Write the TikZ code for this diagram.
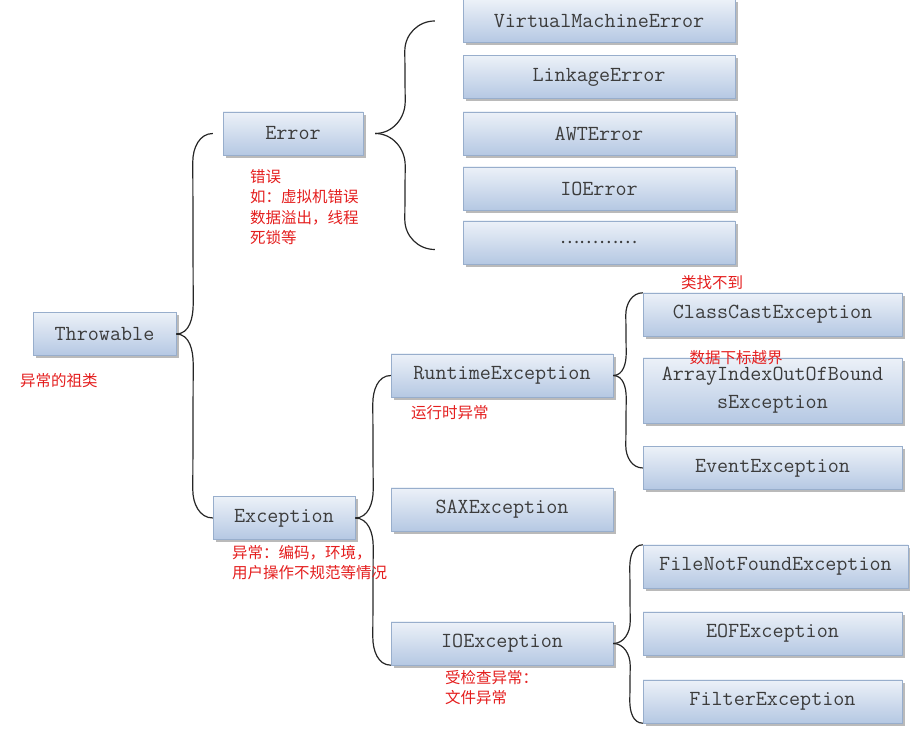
\documentclass[tikz,border=0pt]{standalone}
\usepackage{fontspec}
\newfontfamily\cjk{Noto Sans CJK SC}
\usetikzlibrary{shadows}
\definecolor{boxtop}{RGB}{236,241,248}
\definecolor{boxbot}{RGB}{181,200,227}
\definecolor{boxline}{RGB}{152,174,204}
\definecolor{notered}{RGB}{228,30,30}
\definecolor{classtext}{RGB}{60,60,60}
\tikzset{
  cls/.style={draw=boxline, top color=boxtop, bottom color=boxbot, minimum height=43pt, inner sep=0pt, text=classtext, font=\ttfamily\fontsize{21.5}{28}\selectfont, drop shadow={shadow xshift=2.5pt, shadow yshift=-3pt, fill=black!45, opacity=.6}},
  note/.style={text=notered, font=\cjk\fontsize{15.5}{20.5}\selectfont, align=left, inner sep=0pt},
  brace/.style={line width=1.2pt, black!85}
}
\begin{document}
\begin{tikzpicture}[x=1pt, y=1pt]
      \useasboundingbox (0,0) rectangle (910,728);
      % root and its two children
      \node[cls, minimum width=143pt] (thr) at (104.5,394) {Throwable};
      \node[cls, minimum width=140pt] (err) at (293,594.5) {Error};
      \node[cls, minimum width=142pt] (exc) at (284,210) {Exception};
      % errors
      \node[cls, minimum width=272pt] (vme) at (599,707) {VirtualMachineError};
      \node[cls, minimum width=272pt] (lnk) at (599,651) {LinkageError};
      \node[cls, minimum width=272pt] (awt) at (599,594.5) {AWTError};
      \node[cls, minimum width=272pt] (ioe) at (599,539.5) {IOError};
      \node[cls, minimum width=272pt] (dots) at (599,485.5) {\cjk\fontsize{18}{20}\selectfont …………};
      % exceptions
      \node[cls, minimum width=222pt] (rte) at (502,352.5) {RuntimeException};
      \node[cls, minimum width=222pt] (sax) at (502,218.5) {SAXException};
      \node[cls, minimum width=222pt] (ioex) at (502,84.5) {IOException};
      \node[cls, minimum width=259pt] (cce) at (772.5,413.5) {ClassCastException};
      \node[cls, minimum width=259pt, minimum height=65pt, align=center] (aio) at (772.5,337.5) {ArrayIndexOutOfBound\\sException};
      \node[cls, minimum width=259pt] (eve) at (772.5,260) {EventException};
      \node[cls, minimum width=265pt] (fnf) at (775.5,161.5) {FileNotFoundException};
      \node[cls, minimum width=259pt] (eof) at (772.5,94.5) {EOFException};
      \node[cls, minimum width=259pt] (fil) at (772.5,26.5) {FilterException};
      % braces
      \draw[brace] (thr.east) to[out=0,in=-90] ([xshift=17pt,yshift=30pt]thr.east) -- ([xshift=-30pt,yshift=-28pt]err.west) to[out=90,in=180] ([xshift=-10pt]err.west);
      \draw[brace] (thr.east) to[out=0,in=90] ([xshift=17pt,yshift=-30pt]thr.east) -- ([xshift=-20pt,yshift=28pt]exc.west) to[out=-90,in=180] (exc.west);
      \coordinate (errtip) at ([xshift=12pt]err.east);
      \coordinate (errtop) at ([xshift=-28pt]vme.west);
      \coordinate (errbot) at ([xshift=-28pt,yshift=-7pt]dots.west);
      \draw[brace] (errtip) to[out=0,in=-90] ([xshift=30pt,yshift=32pt]errtip) -- ([xshift=-30pt,yshift=-30pt]errtop) to[out=90,in=180] (errtop);
      \draw[brace] (errtip) to[out=0,in=90] ([xshift=30pt,yshift=-32pt]errtip) -- ([xshift=-30pt,yshift=30pt]errbot) to[out=-90,in=180] (errbot);
      \draw[brace] (exc.east) to[out=0,in=-90] ([xshift=18pt,yshift=28pt]exc.east) -- ([xshift=-18pt,yshift=-28pt]rte.west) to[out=90,in=180] (rte.west);
      \draw[brace] (exc.east) to[out=0,in=90] ([xshift=18pt,yshift=-28pt]exc.east) -- ([xshift=-18pt,yshift=28pt]ioex.south west) to[out=-90,in=180] (ioex.south west);
      \draw[brace] (rte.east) to[out=0,in=-90] ([xshift=13pt,yshift=22pt]rte.east) -- ([xshift=-17pt,yshift=-22pt]cce.north west) to[out=90,in=180] (cce.north west);
      \draw[brace] (rte.east) to[out=0,in=90] ([xshift=13pt,yshift=-22pt]rte.east) -- ([xshift=-17pt,yshift=22pt]eve.west) to[out=-90,in=180] (eve.west);
      \draw[brace] (ioex.east) to[out=0,in=-90] ([xshift=17pt,yshift=22pt]ioex.east) -- ([xshift=-13pt,yshift=-22pt]fnf.north west) to[out=90,in=180] (fnf.north west);
      \draw[brace] (ioex.east) to[out=0,in=90] ([xshift=17pt,yshift=-22pt]ioex.east) -- ([xshift=-13pt,yshift=22pt]fil.south west) to[out=-90,in=180] (fil.south west);
      % red notes
      \node[note, anchor=west] (thrnote) at (20,347) {异常的祖类};
      \node[note, anchor=north west] (errnote) at (250,559) {错误\\如：虚拟机错误\\数据溢出，线程\\死锁等};
      \node[note, anchor=north west] (excnote) at (232,183) {异常：编码，环境，\\用户操作不规范等情况};
      \node[note, anchor=west] (rtenote) at (411,315) {运行时异常};
      \node[note, anchor=north west] (ioexnote) at (445,58) {受检查异常：\\文件异常};
      \node[note] (ccenote) at (712,445) {类找不到};
      \node[note] (aionote) at (736,370) {数据下标越界};
\end{tikzpicture}
\end{document}
